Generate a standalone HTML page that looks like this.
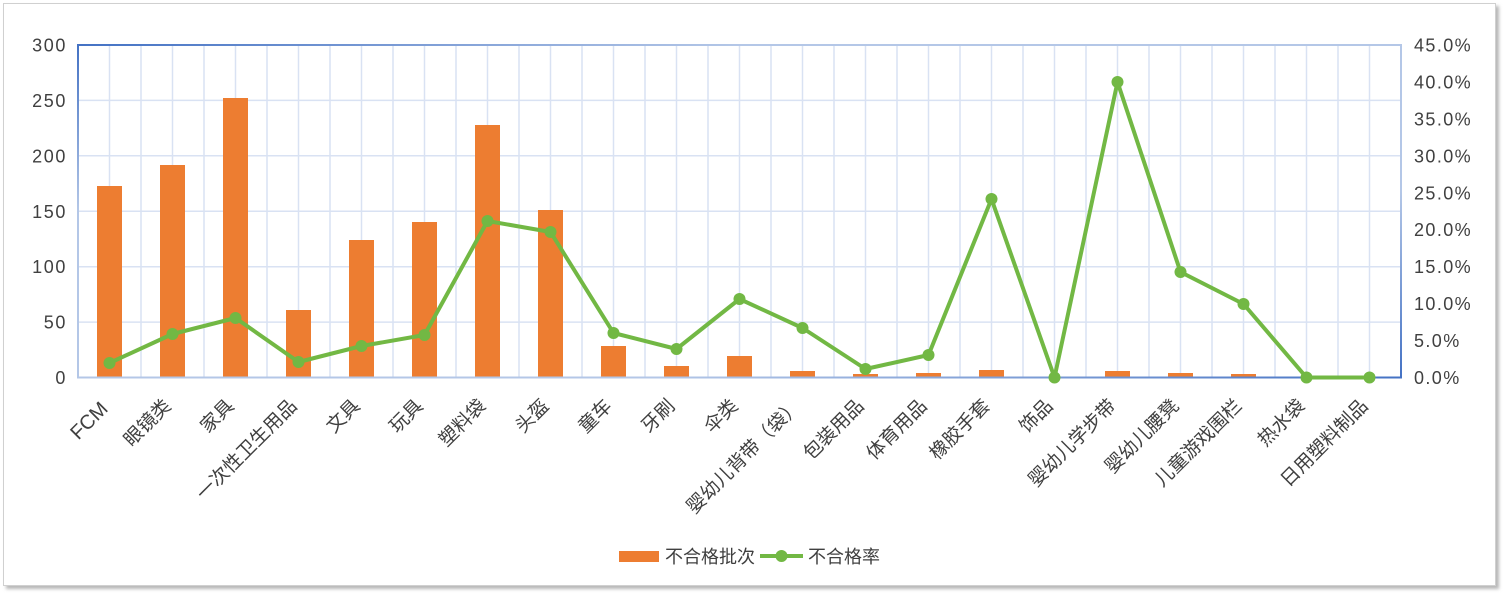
<!DOCTYPE html>
<html><head><meta charset="utf-8"><style>
html,body{margin:0;padding:0;background:#fff;}
svg{display:block;}
text{font-family:"Liberation Sans","Noto Sans CJK SC",sans-serif;fill:#404040;}
</style></head><body>
<svg width="1508" height="598" viewBox="0 0 1508 598" xmlns="http://www.w3.org/2000/svg">
<defs>
<filter id="sh" x="-5%" y="-5%" width="110%" height="110%"><feGaussianBlur stdDeviation="1.5"/></filter>
<linearGradient id="bd" x1="0" y1="0" x2="1" y2="1">
<stop offset="0" stop-color="#4472c4"/><stop offset="0.25" stop-color="#b4c7e7"/><stop offset="0.72" stop-color="#b4c7e7"/><stop offset="1" stop-color="#4472c4"/>
</linearGradient>
</defs>
<rect x="0" y="0" width="1508" height="598" fill="#fff"/>
<rect x="6" y="6" width="1493" height="583" fill="#b8b8b8" filter="url(#sh)"/>
<rect x="3.5" y="3.5" width="1492" height="582" fill="#fff" stroke="#d0d0d0" stroke-width="1"/>

<g stroke="#d9e2f3" stroke-width="1.5" fill="none">
<path d="M78 322.1H1401M78 266.7H1401M78 211.3H1401M78 155.8H1401M78 100.4H1401"/>
<path d="M109.5 45V377.5M141 45V377.5M172.5 45V377.5M204 45V377.5M235.5 45V377.5M267 45V377.5M298.5 45V377.5M330 45V377.5M361.5 45V377.5M393 45V377.5M424.5 45V377.5M456 45V377.5M487.5 45V377.5M519 45V377.5M550.5 45V377.5M582 45V377.5M613.5 45V377.5M645 45V377.5M676.5 45V377.5M708 45V377.5M739.5 45V377.5M771 45V377.5M802.5 45V377.5M834 45V377.5M865.5 45V377.5M897 45V377.5M928.5 45V377.5M960 45V377.5M991.5 45V377.5M1023 45V377.5M1054.5 45V377.5M1086 45V377.5M1117.5 45V377.5M1149 45V377.5M1180.5 45V377.5M1212 45V377.5M1243.5 45V377.5M1275 45V377.5M1306.5 45V377.5M1338 45V377.5M1369.5 45V377.5"/>
</g>

<g fill="#ed7d31">
<rect x="97" y="186" width="25" height="191.5"/>
<rect x="160" y="165" width="25" height="212.5"/>
<rect x="223" y="98" width="25" height="279.5"/>
<rect x="286" y="310" width="25" height="67.5"/>
<rect x="349" y="240" width="25" height="137.5"/>
<rect x="412" y="222" width="25" height="155.5"/>
<rect x="475" y="125" width="25" height="252.5"/>
<rect x="538" y="210" width="25" height="167.5"/>
<rect x="601" y="346" width="25" height="31.5"/>
<rect x="664" y="366" width="25" height="11.5"/>
<rect x="727" y="356" width="25" height="21.5"/>
<rect x="790" y="371" width="25" height="6.5"/>
<rect x="853" y="374" width="25" height="3.5"/>
<rect x="916" y="373" width="25" height="4.5"/>
<rect x="979" y="370" width="25" height="7.5"/>
<rect x="1105" y="371" width="25" height="6.5"/>
<rect x="1168" y="373" width="25" height="4.5"/>
<rect x="1231" y="374" width="25" height="3.5"/>
</g>

<rect x="78" y="45" width="1323" height="332.5" fill="none" stroke="url(#bd)" stroke-width="2"/>

<polyline fill="none" stroke="#72b844" stroke-width="4" stroke-linejoin="round" points="109.5,363 172.5,334 235.5,318 298.5,362 361.5,346 424.5,335 487.5,221 550.5,232 613.5,333 676.5,349 739.5,299 802.5,328 865.5,369 928.5,355 991.5,199 1054.5,377.5 1117.5,82 1180.5,272 1243.5,304 1306.5,377.5 1369.5,377.5"/>
<g fill="#72b844">
<circle cx="109.5" cy="363" r="6"/><circle cx="172.5" cy="334" r="6"/><circle cx="235.5" cy="318" r="6"/><circle cx="298.5" cy="362" r="6"/><circle cx="361.5" cy="346" r="6"/><circle cx="424.5" cy="335" r="6"/><circle cx="487.5" cy="221" r="6"/><circle cx="550.5" cy="232" r="6"/><circle cx="613.5" cy="333" r="6"/><circle cx="676.5" cy="349" r="6"/><circle cx="739.5" cy="299" r="6"/><circle cx="802.5" cy="328" r="6"/><circle cx="865.5" cy="369" r="6"/><circle cx="928.5" cy="355" r="6"/><circle cx="991.5" cy="199" r="6"/><circle cx="1054.5" cy="377.5" r="6"/><circle cx="1117.5" cy="82" r="6"/><circle cx="1180.5" cy="272" r="6"/><circle cx="1243.5" cy="304" r="6"/><circle cx="1306.5" cy="377.5" r="6"/><circle cx="1369.5" cy="377.5" r="6"/>
</g>

<g font-size="18" text-anchor="end" letter-spacing="1.6">
<text x="67" y="51.5">300</text>
<text x="67" y="106.9">250</text>
<text x="67" y="162.3">200</text>
<text x="67" y="217.8">150</text>
<text x="67" y="273.2">100</text>
<text x="67" y="328.6">50</text>
<text x="67" y="384">0</text>
</g>
<g font-size="18" text-anchor="start" letter-spacing="1.4">
<text x="1414" y="51.5">45.0%</text>
<text x="1414" y="88.4">40.0%</text>
<text x="1414" y="125.4">35.0%</text>
<text x="1414" y="162.3">30.0%</text>
<text x="1414" y="199.3">25.0%</text>
<text x="1414" y="236.2">20.0%</text>
<text x="1414" y="273.1">15.0%</text>
<text x="1414" y="310.1">10.0%</text>
<text x="1414" y="347">5.0%</text>
<text x="1414" y="384">0.0%</text>
</g>

<g font-size="19" text-anchor="end">
<text font-size="20" transform="translate(109,410) rotate(-45)">FCM</text>
<text transform="translate(172,407) rotate(-45)">眼镜类</text>
<text transform="translate(235,407) rotate(-45)">家具</text>
<text transform="translate(298,407) rotate(-45)">一次性卫生用品</text>
<text transform="translate(361,407) rotate(-45)">文具</text>
<text transform="translate(424,407) rotate(-45)">玩具</text>
<text transform="translate(487,407) rotate(-45)">塑料袋</text>
<text transform="translate(550,407) rotate(-45)">头盔</text>
<text transform="translate(613,407) rotate(-45)">童车</text>
<text transform="translate(676,407) rotate(-45)">牙刷</text>
<text transform="translate(739,407) rotate(-45)">伞类</text>
<text transform="translate(802,407) rotate(-45)">婴幼儿背带（袋）</text>
<text transform="translate(865,407) rotate(-45)">包装用品</text>
<text transform="translate(928,407) rotate(-45)">体育用品</text>
<text transform="translate(991,407) rotate(-45)">橡胶手套</text>
<text transform="translate(1054,407) rotate(-45)">饰品</text>
<text transform="translate(1117,407) rotate(-45)">婴幼儿学步带</text>
<text transform="translate(1180,407) rotate(-45)">婴幼儿腰凳</text>
<text transform="translate(1243,407) rotate(-45)">儿童游戏围栏</text>
<text transform="translate(1306,407) rotate(-45)">热水袋</text>
<text transform="translate(1369,407) rotate(-45)">日用塑料制品</text>
</g>

<rect x="619" y="551" width="40" height="11" fill="#ed7d31"/>
<text x="665" y="563" font-size="18">不合格批次</text>
<line x1="760" y1="556" x2="803" y2="556" stroke="#72b844" stroke-width="4"/>
<circle cx="781.5" cy="556" r="6" fill="#72b844"/>
<text x="808" y="563" font-size="18">不合格率</text>
</svg>
</body></html>
